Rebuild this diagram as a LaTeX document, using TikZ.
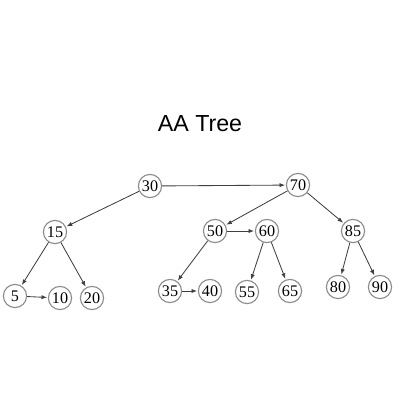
\documentclass[tikz,border=0pt]{standalone}
\usepackage{fontspec}
\setmainfont{Liberation Serif}
\newfontfamily\titlefont{Liberation Sans}
\usetikzlibrary{arrows.meta}
\begin{document}
\begin{tikzpicture}[x=0.025cm,y=-0.025cm,
  keynode/.style={circle,draw=black!45,line width=0.8pt,fill=white,
    minimum size=0.58cm,inner sep=0pt,font=\fontsize{11.5}{13}\selectfont},
  link/.style={draw=black!75,line width=0.6pt,
    -{Latex[length=4pt,width=3pt]},shorten >=0.5pt}]
  \useasboundingbox[fill=white] (0,0) rectangle (400,400);
  \node[font=\titlefont\fontsize{16.5}{19}\selectfont] (title) at (200,124) {AA Tree};
  % level 1
  \node[keynode] (n30) at (150,186) {30};
  \node[keynode] (n70) at (298,185) {70};
  % level 2
  \node[keynode] (n15) at (55,232) {15};
  \node[keynode] (n50) at (215,231) {50};
  \node[keynode] (n60) at (267,231) {60};
  \node[keynode] (n85) at (353,231) {85};
  % leaves
  \node[keynode] (n5) at (15,296) {5};
  \node[keynode] (n10) at (60,298) {10};
  \node[keynode] (n20) at (92,298) {20};
  \node[keynode] (n35) at (170,291) {35};
  \node[keynode] (n40) at (210,291) {40};
  \node[keynode] (n55) at (247,292) {55};
  \node[keynode] (n65) at (290,291) {65};
  \node[keynode] (n80) at (338,287) {80};
  \node[keynode] (n90) at (380,287) {90};
  % links
  \draw[link] (n30) -- (n70);
  \draw[link] (n30) -- (n15);
  \draw[link] (n15) -- (n5);
  \draw[link] (n15) -- (n20);
  \draw[link] (n5) -- (n10);
  \draw[link] (n70) -- (n50);
  \draw[link] (n70) -- (n85);
  \draw[link] (n50) -- (n60);
  \draw[link] (n50) -- (n35);
  \draw[link] (n35) -- (n40);
  \draw[link] (n60) -- (n55);
  \draw[link] (n60) -- (n65);
  \draw[link] (n85) -- (n80);
  \draw[link] (n85) -- (n90);
\end{tikzpicture}
\end{document}
